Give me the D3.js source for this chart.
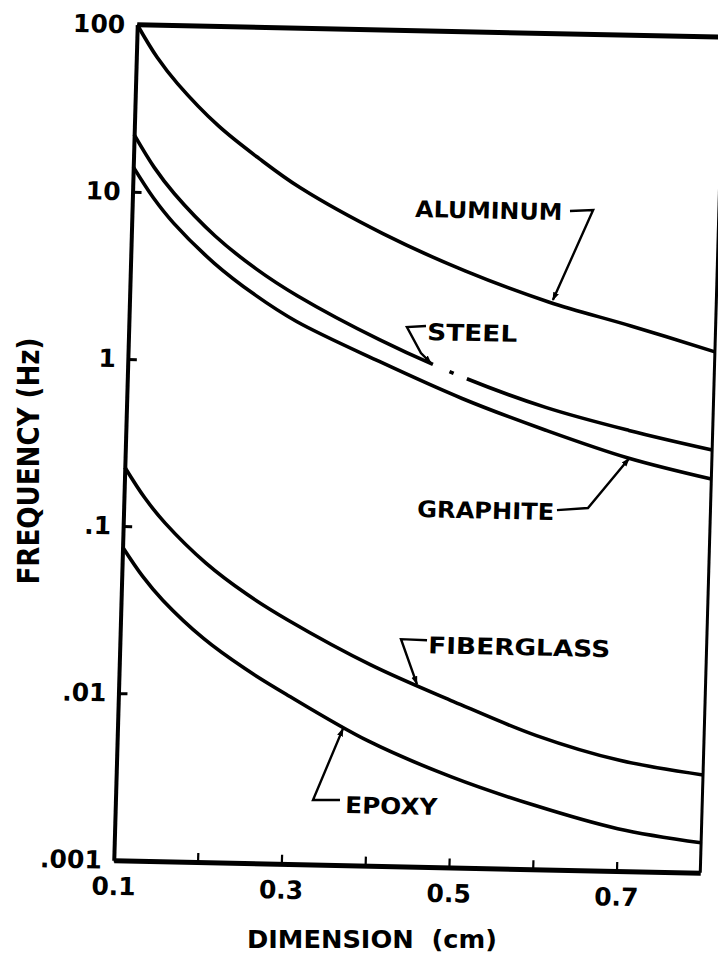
<!DOCTYPE html>
<html><head><meta charset="utf-8">
<script src="https://cdn.jsdelivr.net/npm/d3@7"></script>
<style>
html,body{margin:0;padding:0;background:#fff;}
svg{display:block;background:#fff;}
text{font-family:"DejaVu Sans","Liberation Sans",sans-serif;font-weight:bold;fill:#000;}
</style></head><body>
<svg id="chart" width="718" height="957"></svg>
<script>
// ---- data ----
const dimension = [0.1, 0.125, 0.15, 0.2, 0.25, 0.3, 0.4, 0.5, 0.6, 0.7, 0.8];
const aluminum   = [100, 64, 45, 25.5, 16.4, 11.1, 6.05, 3.7, 2.48, 1.82, 1.31];
const steel      = [22, 14.1, 9.86, 5.58, 3.59, 2.51, 1.40, 0.86, 0.58, 0.433, 0.339];
const graphite   = [14.1, 9.27, 6.58, 3.83, 2.5, 1.76, 1.04, 0.64, 0.425, 0.296, 0.227];
const fiberglass = [0.225, 0.148, 0.1054, 0.0615, 0.0405, 0.0287, 0.0159, 0.00983, 0.0063, 0.00459, 0.00385];
const epoxy      = [0.075, 0.0503, 0.0363, 0.0217, 0.01455, 0.01035, 0.00555, 0.00348, 0.00241, 0.00179, 0.00151];

// small break in the steel curve (dimension range) with a dot in between
const steelGap = [0.464, 0.505];
const steelDot = [0.484, 0.489];

const yTickValues = [100, 10, 1, 0.1, 0.01, 0.001];
const yTickLabels = ["100", "10", "1", ".1", ".01", ".001"];
const xTickValues = [0.2, 0.3, 0.4, 0.5, 0.6, 0.7];
const xLabelValues = [0.1, 0.3, 0.5, 0.7];
const xLabelText = ["0.1", "0.3", "0.5", "0.7"];

const seriesNames = ["ALUMINUM", "STEEL", "GRAPHITE", "FIBERGLASS", "EPOXY"];
const seriesValues = [aluminum, steel, graphite, fiberglass, epoxy];

// annotation label anchor (x, value) and leader points (x, value), last point = arrow tip
const labelAnchors = [[0.4378, 7.69], [0.4562, 1.417], [0.4502, 0.1233], [0.4678, 0.01897], [0.3743, 0.00205]];
const labelWidths = [147, 90, 137, 182, 92];
const leaders = [
  [[0.6224, 8.74], [0.650, 8.91], [0.605, 2.55]],
  [[0.4545, 1.717], [0.4318, 1.683], [0.4494, 1.183], [0.4618, 1.03]],
  [[0.6169, 0.1415], [0.6538, 0.1469], [0.7012, 0.294]],
  [[0.4663, 0.0227], [0.4352, 0.02285], [0.4557, 0.01236]],
  [[0.3678, 0.00245], [0.3356, 0.00243], [0.369, 0.00655]]
];

// ---- layout ----
const W = 586.5, H = 835.5;
const svg = d3.select("#chart");
svg.append("rect").attr("width", 718).attr("height", 957).attr("fill", "#fff");

const defs = svg.append("defs");
defs.append("marker").attr("id", "arrow").attr("viewBox", "0 0 10 10")
  .attr("refX", 9).attr("refY", 5).attr("markerWidth", 3.6).attr("markerHeight", 3.6)
  .attr("orient", "auto")
  .append("path").attr("d", "M0,1.5L10,5L0,8.5Z").attr("fill", "#000");

// the scanned page is slightly skewed: reproduce with an affine transform
const g = svg.append("g").attr("transform", "matrix(1,0.0213,-0.0281,1,137.25,24.75)");

const x = d3.scaleLinear().domain([0.1, 0.8]).range([0, W]);
const y = d3.scaleLog().domain([0.001, 100]).range([H, 0]);

// frame: top and right
g.append("line").attr("x1", 0).attr("y1", 0).attr("x2", W + 10).attr("y2", 0)
  .attr("stroke", "#000").attr("stroke-width", 5);
g.append("line").attr("x1", W).attr("y1", 0).attr("x2", W).attr("y2", H)
  .attr("stroke", "#000").attr("stroke-width", 3);

// left axis
const yAxis = g.append("g").call(
  d3.axisLeft(y).tickValues(yTickValues).tickFormat((d, i) => yTickLabels[i])
    .tickSizeInner(-9).tickSizeOuter(0).tickPadding(12));
yAxis.select(".domain").attr("stroke-width", 4);
yAxis.selectAll(".tick line").attr("stroke-width", 3);
yAxis.selectAll(".tick text").style("font-size", "25px").attr("fill", "#000");

// bottom axis ticks
const xAxis = g.append("g").attr("transform", `translate(0,${H})`).call(
  d3.axisBottom(x).tickValues(xTickValues).tickFormat("").tickSizeInner(-9).tickSizeOuter(0));
xAxis.select(".domain").attr("stroke-width", 5);
xAxis.selectAll(".tick line").attr("stroke-width", 2.2);

// bottom axis labels
const xLab = g.append("g").attr("transform", `translate(0,${H})`).call(
  d3.axisBottom(x).tickValues(xLabelValues).tickFormat((d, i) => xLabelText[i])
    .tickSize(0).tickPadding(17));
xLab.select(".domain").remove();
xLab.selectAll(".tick text").style("font-size", "25px").attr("fill", "#000");

// curves
const line = d3.line().x((d, i) => x(dimension[i])).y(d => y(d)).curve(d3.curveCatmullRom.alpha(0.5));
const paths = g.selectAll("path.series").data(seriesValues).enter().append("path")
  .attr("class", "series").attr("d", d => line(d))
  .attr("fill", "none").attr("stroke", "#000").attr("stroke-width", 3.6)
  .attr("stroke-linejoin", "round");

// break in the steel curve
(function () {
  const node = paths.nodes()[1];
  const total = node.getTotalLength();
  function lenAtX(px) {
    let lo = 0, hi = total;
    for (let k = 0; k < 40; k++) {
      const mid = (lo + hi) / 2;
      if (node.getPointAtLength(mid).x < px) lo = mid; else hi = mid;
    }
    return lo;
  }
  const a = lenAtX(x(steelGap[0])), b = lenAtX(x(steelDot[0])),
        c = lenAtX(x(steelDot[1])), e = lenAtX(x(steelGap[1]));
  d3.select(node).attr("stroke-dasharray", `${a} ${b - a} ${c - b} ${e - c} ${total}`);
})();

// leaders
const leaderLine = d3.line().x(d => x(d[0])).y(d => y(d[1]));
g.selectAll("path.leader").data(leaders).enter().append("path")
  .attr("class", "leader").attr("d", d => leaderLine(d))
  .attr("fill", "none").attr("stroke", "#000").attr("stroke-width", 2.4)
  .attr("marker-end", "url(#arrow)");

// labels
g.selectAll("text.lab").data(seriesNames).enter().append("text")
  .attr("class", "lab")
  .attr("x", (d, i) => x(labelAnchors[i][0]))
  .attr("y", (d, i) => y(labelAnchors[i][1]))
  .attr("textLength", (d, i) => labelWidths[i])
  .attr("lengthAdjust", "spacingAndGlyphs")
  .style("font-size", "23px")
  .text(d => d);

// axis titles
svg.append("text")
  .attr("transform", "translate(39,461) rotate(-90)")
  .attr("text-anchor", "middle")
  .attr("textLength", 247).attr("lengthAdjust", "spacingAndGlyphs")
  .style("font-size", "30px")
  .text("FREQUENCY (Hz)");

svg.append("text")
  .attr("x", 247).attr("y", 948)
  .attr("textLength", 250).attr("lengthAdjust", "spacingAndGlyphs")
  .style("font-size", "24px").style("white-space", "pre")
  .text("DIMENSION  (cm)");
</script>
</body></html>
